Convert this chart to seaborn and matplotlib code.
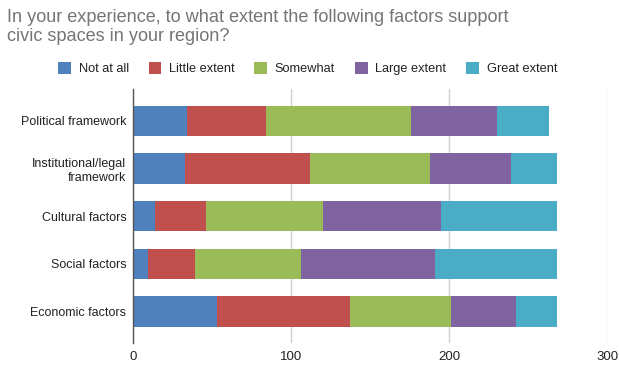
import matplotlib
matplotlib.use("Agg")
import matplotlib.pyplot as plt
from matplotlib.patches import Patch
import numpy as np
import pandas as pd
import seaborn as sns

categories = ["Political framework", "Institutional/legal\nframework",
              "Cultural factors", "Social factors", "Economic factors"]
series_names = ["Not at all", "Little extent", "Somewhat", "Large extent", "Great extent"]
not_at_all = [34, 33, 14, 9, 53]
little_extent = [50, 79, 32, 30, 84]
somewhat = [92, 76, 74, 67, 64]
large_extent = [54, 51, 75, 85, 41]
great_extent = [33, 29, 73, 77, 26]
colors = ["#4F81BD", "#C0504D", "#9BBB59", "#8064A2", "#4BACC6"]
x_ticks = [0, 100, 200, 300]

sns.set_theme(style="white")
plt.rcParams["font.family"] = ["Liberation Sans", "DejaVu Sans"]

values = [not_at_all, little_extent, somewhat, large_extent, great_extent]
df = pd.DataFrame({"category": categories})
for name, vals in zip(series_names, values):
    df[name] = vals
cum = df[series_names].cumsum(axis=1)

fig = plt.figure(figsize=(6.19, 3.67), dpi=100)
ax = fig.add_axes([0.2154, 0.0654, 0.9811 - 0.2154, 0.7575 - 0.0654])

# stacked bars: draw cumulative totals from the outermost series inward
for name, col in reversed(list(zip(series_names, colors))):
    sns.barplot(x=cum[name], y=df["category"], color=col, orient="h",
                width=0.64, saturation=1, ax=ax, linewidth=0, zorder=3)

ax.set_xlim(0, 300)
ax.set_ylim(4.66, -0.67)
ax.set_xticks(x_ticks)
ax.set_xticklabels([str(t) for t in x_ticks], fontsize=9.5, color="#222222")
ax.tick_params(axis="y", labelsize=9, colors="#222222", length=0, pad=5)
ax.tick_params(axis="x", length=0, pad=6)
ax.set_xlabel("")
ax.set_ylabel("")
for lab in ax.get_yticklabels():
    lab.set_horizontalalignment("right")
    lab.set_multialignment("right")
ax.xaxis.grid(True, color="#d0d0d0", linewidth=1, zorder=0)
ax.yaxis.grid(False)
for side in ["top", "right", "bottom"]:
    ax.spines[side].set_visible(False)
ax.spines["left"].set_color("#555555")
ax.spines["left"].set_linewidth(1)
ax.spines["left"].set_zorder(4)

fig.text(0.011, 0.975, "In your experience, to what extent the following factors support\n"
         "civic spaces in your region?", fontsize=13.1, color="#757575",
         ha="left", va="top", linespacing=1.12)

handles = [Patch(facecolor=c, edgecolor="none") for c in colors]
fig.legend(handles, series_names, loc="center", bbox_to_anchor=(0.497, 0.813),
           ncol=5, frameon=False, fontsize=9.2, handlelength=1.0, handleheight=1.0,
           handletextpad=0.6, columnspacing=1.55, labelcolor="#222222")

fig.savefig("out.png", dpi=100)
